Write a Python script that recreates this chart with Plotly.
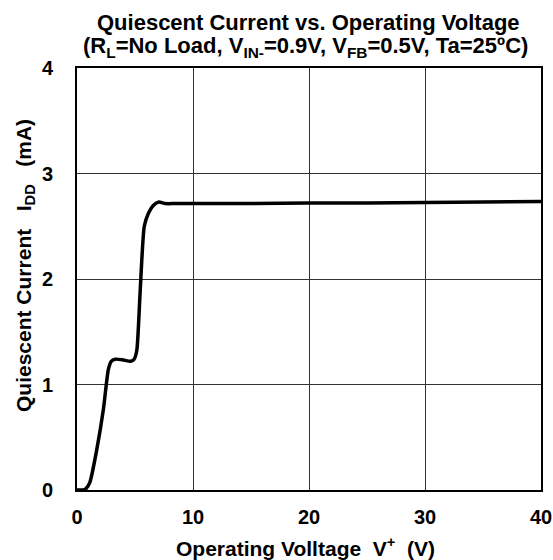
import plotly.graph_objects as go

voltage = [0.0, 0.5, 0.75, 1.1, 1.7, 2.27, 2.7, 2.95, 3.3, 3.9, 4.6, 4.9, 5.15, 5.43, 5.8, 6.15, 6.6, 7.05, 7.6, 8.5, 10, 15, 20, 25, 30, 35, 40]
current = [0.0, 0.0, 0.01, 0.07, 0.38, 0.76, 1.14, 1.22, 1.24, 1.235, 1.22, 1.235, 1.32, 1.85, 2.5, 2.62, 2.7, 2.73, 2.715, 2.715, 2.715, 2.715, 2.72, 2.72, 2.725, 2.73, 2.735]

x_ticks = [0, 10, 20, 30, 40]
y_ticks = [0, 1, 2, 3, 4]

NB = "\u00a0"
title_line1 = "Quiescent Current vs. Operating Voltage"
title_line2 = "(R<sub>L</sub>=No Load, V<sub>IN-</sub>=0.9V, V<sub>FB</sub>=0.5V, Ta=25ºC)"
x_title = f"Operating Volltage{NB} V<sup>+</sup>{NB} (V)"
y_title = f"Quiescent Current{NB*2} I<sub>DD</sub>{NB*2} (mA)"

font = "Liberation Sans, Arial, sans-serif"

fig = go.Figure()
fig.add_trace(go.Scatter(x=voltage, y=current, mode="lines",
                         line=dict(color="black", width=3.5, shape="spline", smoothing=0.6),
                         showlegend=False, hoverinfo="skip"))

L, R, T, B = 77, 12, 68, 70
W, H = 553, 560
pw, ph = W - L - R, H - T - B

def px_x(p):
    return (p - L) / pw

def px_y(p):
    return (H - B - p) / ph

fig.update_layout(
    width=W, height=H,
    margin=dict(l=L, r=R, t=T, b=B, autoexpand=False),
    paper_bgcolor="white", plot_bgcolor="white",
    font=dict(family=font, color="black"),
    xaxis=dict(
        range=[0, 40], tickvals=x_ticks, ticktext=[f"<b>{v}</b>" for v in x_ticks],
        showgrid=True, gridcolor="#333333", gridwidth=1,
        showline=True, linecolor="black", linewidth=2, mirror=True,
        ticks="", zeroline=False, tickfont=dict(size=20, family=font),
        ticklabelstandoff=8, automargin=False,
    ),
    yaxis=dict(
        range=[0, 4], tickvals=y_ticks, ticktext=[f"<b>{v}</b>" for v in y_ticks],
        showgrid=True, gridcolor="#333333", gridwidth=1,
        showline=True, linecolor="black", linewidth=2, mirror=True,
        ticks="", zeroline=False, tickfont=dict(size=20, family=font),
        ticklabelstandoff=18, automargin=False,
    ),
    annotations=[
        dict(text=f"<b>{title_line1}</b>", xref="paper", yref="paper",
             x=px_x(308.5), y=px_y(22), xanchor="center", yanchor="middle",
             showarrow=False, font=dict(size=22, family=font)),
        dict(text=f"<b>{title_line2}</b>", xref="paper", yref="paper",
             x=px_x(305), y=px_y(46.5), xanchor="center", yanchor="middle",
             showarrow=False, font=dict(size=22, family=font)),
        dict(text=f"<b>{x_title}</b>", xref="paper", yref="paper",
             x=px_x(305), y=px_y(547), xanchor="center", yanchor="middle",
             showarrow=False, font=dict(size=21, family=font)),
        dict(text=f"<b>{y_title}</b>", xref="paper", yref="paper",
             x=px_x(25), y=px_y(266), xanchor="center", yanchor="middle",
             textangle=-90, showarrow=False, font=dict(size=21, family=font)),
    ],
)

fig.write_html("out.html", config={"displayModeBar": False},
               post_script="document.body.style.margin='0';document.body.style.padding='0';")
